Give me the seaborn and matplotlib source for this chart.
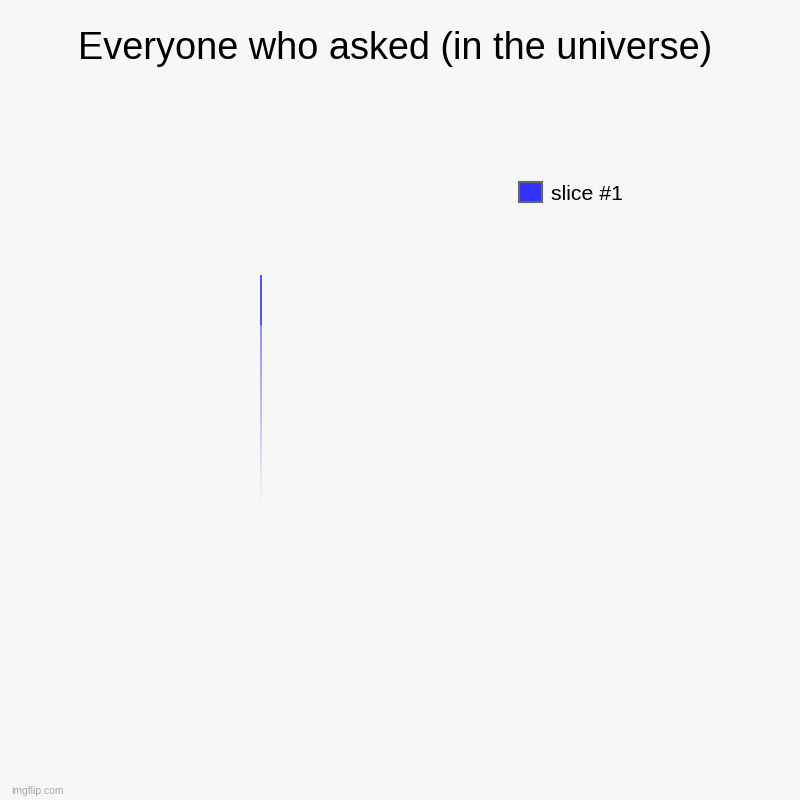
import numpy as np
import matplotlib
matplotlib.use("Agg")
import matplotlib.pyplot as plt
from matplotlib.collections import LineCollection
from matplotlib.patches import Patch
import seaborn as sns

title = "Everyone who asked (in the universe)"
slice_labels = ["slice #1"]
slice_values = [0]
slice_colors = ["#3333ff"]

sns.set_theme(style="white")
plt.rcParams["font.family"] = ["Liberation Sans", "DejaVu Sans"]

bg = "#f7f7f7"
fig = plt.figure(figsize=(8, 8), dpi=100, facecolor=bg)
fig.text(0.494, 0.939, title, ha="center", va="center", fontsize=27.3, color="#000000")

# pie axes
cx, cy, r = 261 / 800, 1 - 390 / 800, 115 / 800
ax = fig.add_axes([cx - r, cy - r, 2 * r, 2 * r])
ax.set_facecolor(bg)
ax.set_xlim(-1, 1)
ax.set_ylim(-1, 1)
ax.set_axis_off()

# a zero-sized slice leaves only its edge at 12 o'clock, fading downward
total = sum(slice_values)
for val, col in zip(slice_values, slice_colors):
    ys = np.linspace(1, -1, 120)
    segs = [[(0, ys[i]), (0, ys[i + 1])] for i in range(len(ys) - 1)]
    mid = (ys[:-1] + ys[1:]) / 2
    alphas = np.where(mid > 0.56, 1.0, 0.65 * (mid + 1) / 1.56)
    rgba = np.array([matplotlib.colors.to_rgba(col, a) for a in alphas])
    ax.add_collection(LineCollection(segs, colors=rgba, linewidths=1.2))

handles = [Patch(facecolor=c, edgecolor="#666666", linewidth=1.5, label=l)
           for l, c in zip(slice_labels, slice_colors)]
fig.legend(handles=handles, loc="center left", bbox_to_anchor=(0.638, 0.759),
           frameon=False, fontsize=15.3, handlelength=1.1, handleheight=1.1,
           handletextpad=0.4, borderaxespad=0, labelcolor="#000000")

fig.text(0.014, 0.011, "imgflip.com", fontsize=7.5, color="#aaaaaa", ha="left", va="center")

fig.savefig("out.png", dpi=100, facecolor=bg)
